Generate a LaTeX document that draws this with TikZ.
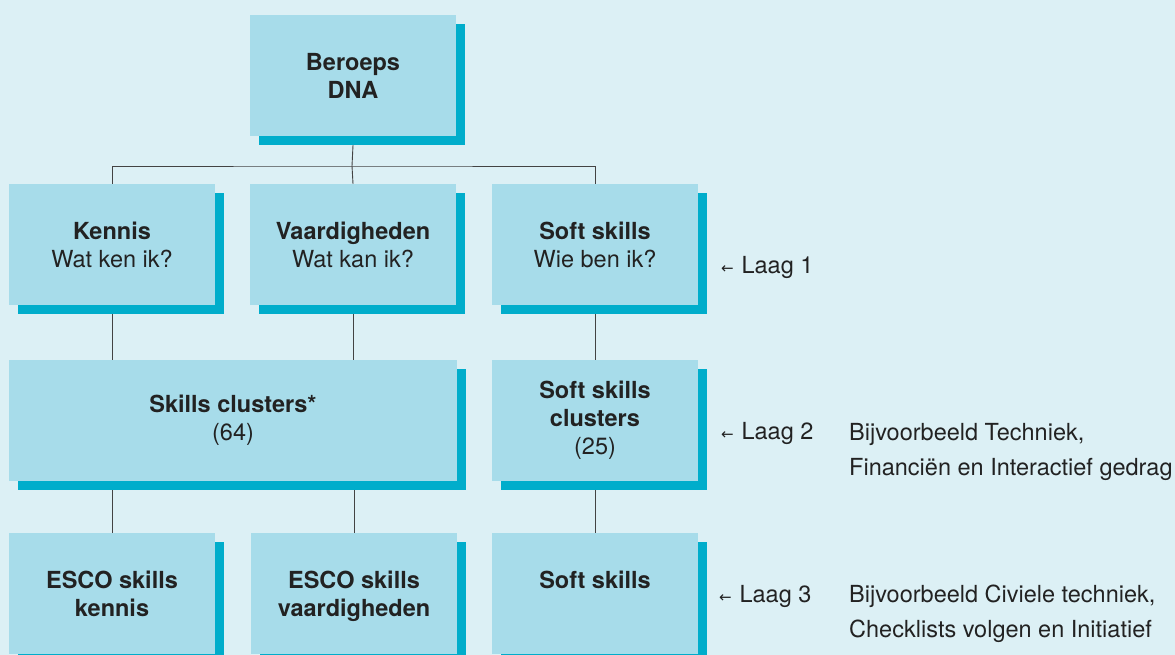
\documentclass[tikz,border=0pt]{standalone}
\usepackage{fontspec}
\setmainfont{TeX Gyre Heros}
\newfontfamily\arrowfont{DejaVu Sans}
\usetikzlibrary{positioning,shadows}

\definecolor{bgblue}{HTML}{DCF0F5}
\definecolor{boxblue}{HTML}{A7DCEA}
\definecolor{shadeblue}{HTML}{00ADCB}
\definecolor{inkgray}{HTML}{222222}

\tikzset{
  dnabox/.style={rectangle,fill=boxblue,minimum width=206pt,minimum height=121pt,
    inner sep=0pt,align=center,text=inkgray,
    font=\fontsize{23.5}{28}\selectfont,
    drop shadow={opacity=1,fill=shadeblue,shadow xshift=9pt,shadow yshift=-9pt}},
  link/.style={draw=inkgray!85,line width=0.9pt},
  laag/.style={anchor=base west,inner sep=0pt,text=inkgray,font=\fontsize{23.5}{28}\selectfont},
  note/.style={anchor=base west,inner sep=0pt,align=left,text=inkgray,font=\fontsize{23.5}{35}\selectfont}
}

\begin{document}
\begin{tikzpicture}[x=1pt,y=-1pt]
    \useasboundingbox (0,0) rectangle (1175,655);
    \fill[bgblue] (0,0) rectangle (1175,655);

    % bovenste laag
    \node[dnabox](dna) at (353,75.5){\textbf{Beroeps}\\\textbf{DNA}};

    % laag 1
    \node[dnabox](kennis) at (112,244.5){\textbf{Kennis}\\Wat ken ik?};
    \node[dnabox](vaardig) at (353,244.5){\textbf{Vaardigheden}\\Wat kan ik?};
    \node[dnabox](soft) at (595,244.5){\textbf{Soft skills}\\Wie ben ik?};

    % laag 2
    \node[dnabox,minimum width=448pt](clusters) at (233,420.5){\textbf{Skills clusters*}\\(64)};
    \node[dnabox](softclusters) at (595,420.5){\textbf{Soft skills}\\\textbf{clusters}\\(25)};

    % laag 3
    \node[dnabox](escok) at (112,593.5){\textbf{ESCO skills}\\\textbf{kennis}};
    \node[dnabox](escov) at (354,593.5){\textbf{ESCO skills}\\\raisebox{0pt}[\height][0pt]{\textbf{vaardigheden}}};
    \node[dnabox](softskills) at (595,593.5){\textbf{Soft skills}\\\phantom{\textbf{kennis}}};

    % verbindingen
    \coordinate (split) at (352,166);
    \draw[link] ([yshift=-9pt]dna.south) -- (split);
    \draw[link] (kennis.north) |- (split) -| (soft.north);
    \draw[link] (split) -- (vaardig.north);
    \draw[link] ([yshift=-9pt]kennis.south) -- (kennis.south |- clusters.north);
    \draw[link] ([yshift=-9pt]vaardig.south) -- (vaardig.south |- clusters.north);
    \draw[link] ([yshift=-9pt]soft.south) -- (softclusters.north);
    \draw[link] ([yshift=-9pt]clusters.south -| escok.north) -- (escok.north);
    \draw[link] ([yshift=-9pt]clusters.south -| escov.north) -- (escov.north);
    \draw[link] ([yshift=-9pt]softclusters.south) -- (softskills.north);

    % lagen
    \node[laag](laag1) at (721,273){{\arrowfont\fontsize{15}{18}\selectfont ←}\,\,Laag 1};
    \node[laag](laag2) at (721,439){{\arrowfont\fontsize{15}{18}\selectfont ←}\,\,Laag 2};
    \node[laag](laag3) at (719,602){{\arrowfont\fontsize{15}{18}\selectfont ←}\,\,Laag 3};
    \node[note](voorbeeld2) at (849,475){Bijvoorbeeld Techniek,\\Financiën en Interactief gedrag};
    \node[note](voorbeeld3) at (849,637){Bijvoorbeeld Civiele techniek,\\Checklists volgen en Initiatief};
\end{tikzpicture}
\end{document}
